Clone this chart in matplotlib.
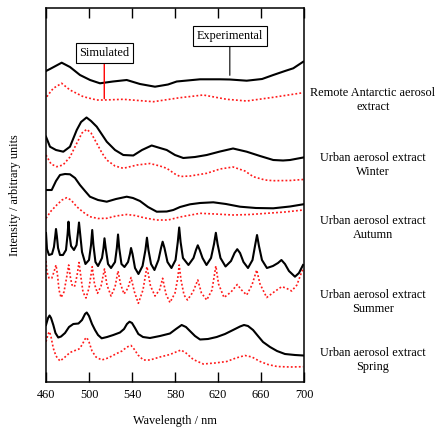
import numpy as np
import matplotlib
matplotlib.use("Agg")
import matplotlib.pyplot as plt

plt.rcParams['font.family'] = ['Liberation Serif', 'DejaVu Serif']

# --- spectra (wavelength in nm, intensity in arbitrary stacked units) ---
ant_exp_wl = [460.0, 463.7, 474.6, 482.3, 491.6, 501.0, 510.2, 522.3, 535.1, 547.4, 561.4, 573.5,
              581.6, 603.3, 621.9, 631.0, 646.7, 661.0, 671.4, 682.3, 690.0, 699.3]
ant_exp = [311, 313, 319.3, 315, 307, 302, 298.7, 300.5, 302, 298, 295.3, 297.5,
           300.5, 302.7, 302.7, 302.5, 301.3, 303, 307, 311, 313.7, 320.3]
ant_sim_wl = [460.7, 466.8, 474.6, 482.3, 494.7, 507.2, 514.2, 531.9, 559.8, 584.7, 606.3, 628.1,
              646.7, 671.4, 699.3]
ant_sim = [285.3, 293.7, 298.7, 292, 285.3, 282, 282, 282.7, 280.3, 284.3, 287, 282.7,
           281, 284.7, 289.3]

win_exp_wl = [460.0, 463.7, 469.3, 476.1, 482.3, 488.6, 492.6, 497.7, 501.9, 507.2, 516.5, 524.2,
              531.9, 541.2, 549.3, 558.3, 566.0, 572.3, 580.0, 587.7, 598.6, 609.5, 621.9, 634.0,
              646.7, 659.1, 671.4, 680.5, 687.0, 699.3]
win_exp = [245.3, 235.3, 232, 230.3, 235.3, 252, 260, 264.5, 261, 255.3, 240.3, 232,
           227, 226.5, 232, 236.5, 234, 232, 227, 224, 225, 227, 230.5, 233.5,
           230.3, 226, 222, 221.5, 222, 224.5]
win_sim_wl = [460.0, 464.7, 470.0, 475.8, 482.3, 488.6, 493.5, 497.9, 501.9, 507.2, 512.1, 516.5,
              524.2, 531.9, 544.7, 556.7, 566.0, 572.3, 580.0, 584.7, 594.0, 609.5, 621.9, 634.0,
              645.1, 652.8, 663.7, 671.4, 687.0, 699.3]
win_sim = [227, 218, 215.3, 217, 225, 238.7, 249, 252.7, 249, 238.7, 229, 222,
           216, 213.7, 217, 218.5, 216, 213.7, 208, 205.5, 206, 208.7, 213, 215,
           211, 205.3, 202, 201.3, 201.5, 202.5]

aut_exp_wl = [460.0, 465.3, 469.3, 473.0, 477.7, 482.3, 487.0, 491.6, 496.3, 500.9, 508.4, 516.5,
              525.1, 535.1, 540.9, 547.4, 554.9, 563.0, 572.3, 578.4, 584.7, 594.0, 603.3, 615.6,
              627.4, 640.5, 655.3, 671.4, 687.0, 699.3]
aut_exp = [192, 192, 201, 207, 208, 207.7, 204, 197, 191, 185.3, 182, 180.3,
           183, 185.3, 184, 181, 175, 170.3, 170.5, 172, 175, 177.7, 179, 179.7,
           178, 175.3, 174, 173.7, 175.5, 177.7]
aut_sim_wl = [460.0, 464.7, 470.0, 474.9, 479.3, 483.3, 488.6, 494.4, 500.9, 508.4, 516.5, 525.1,
              535.1, 542.8, 552.1, 563.0, 573.5, 584.7, 603.3, 617.2, 634.0, 649.8, 665.3, 682.3,
              699.3]
aut_sim = [163.7, 171, 177, 182, 184.3, 182, 175.3, 170, 165.3, 163.5, 163.7, 166,
           167.5, 166.5, 164, 162, 162, 165, 168.7, 168, 167, 167.5, 168.7, 170,
           172]

sum_exp_wl = [460.0, 460.9, 462.8, 465.6, 467.4, 468.6, 469.3, 470.1, 471.2, 473.0, 475.8, 478.6,
              480.1, 480.9, 481.8, 483.3, 486.0, 488.4, 489.8, 490.7, 491.6, 493.5, 496.7, 500.0,
              501.9, 503.0, 504.1, 506.0, 508.4, 512.1, 513.5, 514.4, 515.5, 517.7, 520.5, 524.2,
              525.9, 527.0, 528.1, 530.2, 533.0, 536.3, 538.1, 539.1, 540.5, 542.8, 546.0, 549.8,
              552.5, 553.9, 555.3, 557.7, 560.9, 564.6, 567.0, 568.5, 570.2, 573.0, 576.7, 580.5,
              582.6, 583.9, 585.2, 587.4, 592.5, 597.2, 599.5, 601.2, 603.0, 605.6, 609.3, 613.5,
              616.3, 618.0, 619.6, 622.3, 627.0, 632.1, 635.4, 637.9, 640.5, 643.7, 647.9, 652.1,
              654.4, 656.3, 658.1, 660.9, 665.5, 671.1, 675.8, 679.0, 682.3, 686.0, 691.6, 695.3,
              699.1]
sum_exp = [149, 133, 127, 128, 135, 146, 153, 146, 134, 127, 127, 132,
           148, 160.3, 148, 136, 132, 137, 150, 159.5, 150, 130, 118, 122,
           137, 152, 137, 120, 116, 124, 134, 143.7, 134, 118, 114, 120,
           134, 147.5, 134, 118, 115, 120, 128, 134, 128, 114, 108, 116,
           132, 144.3, 132, 118, 112, 122, 134, 140.3, 134, 120, 114, 122,
           140, 154.5, 140, 124, 117, 124, 132, 136.7, 132, 124, 117, 124,
           138, 149.2, 138, 124, 115.5, 121, 129, 132.8, 129, 120, 114, 122,
           136, 147, 136, 122, 114, 116, 119, 122, 118, 111, 105.3, 109,
           117]
sum_sim_wl = [460.0, 460.9, 462.8, 465.3, 467.4, 469.3, 470.7, 472.1, 474.0, 476.7, 479.1, 481.1,
              482.8, 484.2, 486.5, 488.8, 490.7, 492.6, 494.4, 497.2, 500.0, 503.0, 505.1, 507.9,
              511.2, 514.4, 516.7, 520.5, 524.2, 527.0, 529.3, 532.6, 536.3, 539.1, 542.3, 545.9,
              550.2, 553.9, 557.2, 561.4, 565.6, 568.5, 571.6, 575.3, 580.0, 582.6, 583.9, 585.6,
              588.4, 591.6, 596.7, 601.2, 604.6, 609.5, 614.4, 618.0, 620.5, 625.6, 632.1, 637.9,
              641.9, 646.7, 651.6, 656.0, 659.1, 665.3, 672.1, 679.2, 683.2, 688.5, 693.4, 697.8,
              699.5]
sum_sim = [121, 110, 104, 103.7, 110, 117, 107, 92, 84.5, 90, 104, 117,
           104, 97, 95.3, 106, 119.5, 104, 90, 84, 94, 115.3, 98, 88.7,
           96, 113, 97, 86, 95, 111, 98, 88, 94, 104.5, 90, 78.7,
           92, 115.3, 96, 86, 92, 103.7, 88, 79.5, 89, 104, 117, 102,
           87, 82, 90, 102, 89, 82, 92, 116, 98, 84.5, 90, 97.5,
           92, 87, 97, 112, 98, 84.5, 90, 95.3, 94, 91, 97, 110,
           114]

spr_exp_wl = [460.0, 461.9, 463.3, 464.7, 466.8, 468.8, 471.4, 474.0, 477.7, 481.4, 485.4, 490.2,
              493.5, 496.3, 497.9, 500.0, 502.8, 505.6, 508.4, 511.8, 516.8, 522.6, 528.8, 532.6,
              535.3, 537.7, 540.0, 542.8, 545.9, 550.2, 556.7, 566.0, 575.3, 580.9, 586.2, 590.2,
              593.9, 598.6, 603.3, 610.7, 618.8, 626.5, 634.0, 640.5, 644.2, 647.9, 652.6, 657.2,
              661.9, 668.4, 674.9, 682.3, 691.6, 699.3]
spr_exp = [57, 64, 66.5, 64, 57, 49, 44.5, 45.5, 49, 55, 58, 58.5,
           62, 68, 69.5, 66, 58, 52, 47, 43.7, 45, 47, 49.5, 53,
           58, 60.3, 59, 54, 48, 45, 44, 46, 48.5, 53, 57, 55,
           51, 46, 42.5, 43, 45, 48, 52, 55.5, 57, 56, 52, 46,
           40, 35, 31, 28, 27, 26.5]
spr_sim_wl = [460.0, 461.9, 463.3, 464.7, 466.8, 469.3, 473.0, 476.7, 482.3, 487.0, 490.7, 493.5,
              496.3, 497.9, 500.0, 502.8, 506.5, 511.8, 517.7, 525.8, 530.7, 535.3, 539.1, 541.9,
              545.6, 550.5, 556.7, 566.0, 575.3, 580.9, 585.6, 590.2, 597.0, 606.3, 617.2, 628.1,
              636.7, 645.1, 651.6, 659.1, 666.5, 674.9, 687.0, 699.3]
spr_sim = [40.3, 48, 50.3, 45, 33.7, 26, 21, 24, 29.5, 31.5, 33, 37,
           43, 44.5, 40, 31, 25, 22, 24, 28.5, 31, 35, 36.5, 33,
           27, 22, 22, 25, 27.5, 30, 32, 29, 22.5, 18, 19, 20.5,
           24, 26.5, 25, 20.5, 17.5, 15.5, 15, 15.3]

sample_names = ["Remote Antarctic aerosol\nextract",
                "Urban aerosol extract\nWinter",
                "Urban aerosol extract\nAutumn",
                "Urban aerosol extract\nSummer",
                "Urban aerosol extract\nSpring"]
experimental = [(ant_exp_wl, ant_exp), (win_exp_wl, win_exp), (aut_exp_wl, aut_exp),
                (sum_exp_wl, sum_exp), (spr_exp_wl, spr_exp)]
simulated = [(ant_sim_wl, ant_sim), (win_sim_wl, win_sim), (aut_sim_wl, aut_sim),
             (sum_sim_wl, sum_sim), (spr_sim_wl, spr_sim)]
xticks = [460, 500, 540, 580, 620, 660, 700]

fig = plt.figure(figsize=(4.39, 4.36), dpi=100)
ax = fig.add_axes([46 / 439, 54 / 436, 258 / 439, 374 / 436])

for (wl, y) in simulated:
    ax.plot(wl, y, color='#ff1a1a', lw=1.2, linestyle=(0, (1.1, 1.3)))
for (wl, y) in experimental:
    ax.plot(wl, y, color='black', lw=1.5)

ax.set_xlim(460, 700)
ax.set_ylim(0, 374)
ax.set_xticks(xticks)
ax.set_yticks([])
ax.tick_params(axis='x', direction='in', length=7, width=1, top=True, labelsize=8.8, pad=5)
for s in ax.spines.values():
    s.set_linewidth(1.1)
ax.set_xlabel("Wavelength / nm", fontsize=8.8, labelpad=10)
fig.text(15 / 439, 1 - 195 / 436, "Intensity / arbitrary units", rotation=90,
         ha='center', va='center', fontsize=8.8)

# callouts
i = int(np.argmin(np.abs(np.array(ant_sim_wl) - 514)))
ax.annotate("Simulated", xy=(ant_sim_wl[i], ant_sim[i]), xytext=(ant_sim_wl[i], 329),
            ha='center', va='center', fontsize=8.8,
            bbox=dict(boxstyle='square,pad=0.3', fc='white', ec='black', lw=0.8),
            arrowprops=dict(arrowstyle='-', color='red', lw=1, shrinkA=0, shrinkB=1))
j = int(np.argmin(np.abs(np.array(ant_exp_wl) - 631)))
ax.annotate("Experimental", xy=(ant_exp_wl[j], ant_exp[j]), xytext=(ant_exp_wl[j], 346),
            ha='center', va='center', fontsize=8.8,
            bbox=dict(boxstyle='square,pad=0.3', fc='white', ec='black', lw=0.8),
            arrowprops=dict(arrowstyle='-', color='black', lw=0.8, shrinkA=0, shrinkB=3))

label_y = [100, 165, 228, 302, 360]
for name, py in zip(sample_names, label_y):
    fig.text(373 / 439, 1 - py / 436, name, ha='center', va='center', fontsize=8.8)

fig.savefig("out.png", dpi=100)
